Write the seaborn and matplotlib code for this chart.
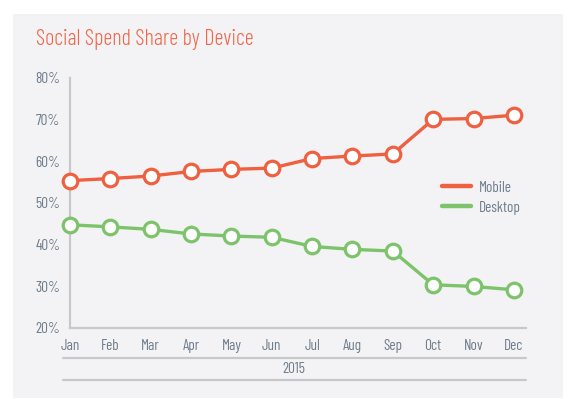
import numpy as np
import pandas as pd
import matplotlib
matplotlib.use('Agg')
import matplotlib.pyplot as plt
import seaborn as sns
from matplotlib.lines import Line2D
from matplotlib.patches import Rectangle

# ---------------- datos ----------------
meses = ['Jan', 'Feb', 'Mar', 'Apr', 'May', 'Jun', 'Jul', 'Aug', 'Sep', 'Oct', 'Nov', 'Dec']
mobile = [55.3, 55.8, 56.4, 57.5, 58.0, 58.3, 60.6, 61.2, 61.7, 70.0, 70.2, 71.0]
desktop = [44.7, 44.2, 43.6, 42.5, 42.0, 41.7, 39.5, 38.8, 38.4, 30.3, 29.9, 29.1]
y_ticks = [20, 30, 40, 50, 60, 70, 80]
anio = '2015'

df = pd.DataFrame({
    'idx': list(range(len(meses))) * 2,
    'share': mobile + desktop,
    'device': ['Mobile'] * len(meses) + ['Desktop'] * len(meses),
})

colores = {'Mobile': '#ee6040', 'Desktop': '#7dc36b'}
gris_txt = '#6f7d8c'
gris_eje = '#c8c8c8'

sns.set_style('white')
plt.rcParams['font.family'] = ['Barlow Condensed', 'DejaVu Sans']

fig = plt.figure(figsize=(5.76, 3.99), dpi=100)
fig.patch.set_facecolor('white')
fig.add_artist(Rectangle((13 / 576, 1 - 398 / 399), 550 / 576, 384 / 399,
                         transform=fig.transFigure, facecolor='#f3f3f5',
                         edgecolor='none', zorder=0))

ax = fig.add_axes([70 / 576, 1 - 327.7 / 399, 456 / 576, 250 / 399])
ax.set_facecolor('none')

for dev in ['Mobile', 'Desktop']:
    sub = df[df['device'] == dev]
    sns.lineplot(data=sub, x='idx', y='share', color=colores[dev], ax=ax,
                 linewidth=2.4, marker='o', markersize=10.5,
                 markerfacecolor='white', markeredgecolor=colores[dev],
                 markeredgewidth=2.3, clip_on=False, zorder=3)

ax.set_xlim(0, 11.3)
ax.set_ylim(20, 80)
ax.set_xticks(range(len(meses)))
ax.set_xticklabels(meses)
ax.set_yticks(y_ticks)
ax.set_yticklabels([f'{t}%' for t in y_ticks])
ax.set_xlabel('')
ax.set_ylabel('')

for s in ['top', 'right']:
    ax.spines[s].set_visible(False)
for s in ['left', 'bottom']:
    ax.spines[s].set_color(gris_eje)
    ax.spines[s].set_linewidth(1.6)
ax.tick_params(axis='both', colors=gris_eje, labelcolor=gris_txt, labelsize=11,
               length=4, width=1.6, direction='out')
ax.tick_params(axis='x', pad=4)
ax.tick_params(axis='y', pad=3)

# titulo
fig.text(36 / 576, 1 - 40 / 399, 'Social Spend Share by Device', color='#f0674a',
         fontsize=16, fontweight=300, va='center', ha='left')

# leyenda
handles = [Line2D([0], [0], color=colores[d], linewidth=3.2, solid_capstyle='round')
           for d in ['Mobile', 'Desktop']]
leg = ax.legend(handles, ['Mobile', 'Desktop'], loc='center left',
                bbox_to_anchor=(0.816, 0.52), frameon=False, fontsize=11,
                handlelength=1.9, handletextpad=0.5, labelspacing=0.4,
                borderpad=0, borderaxespad=0)
for t in leg.get_texts():
    t.set_color(gris_txt)

# lineas de agrupacion del anio
for yy in [-0.12, -0.209]:
    ax.plot([-0.015, 1.0], [yy, yy], transform=ax.transAxes, color=gris_eje,
            linewidth=1.6, clip_on=False)
ax.text(0.49, -0.165, anio, transform=ax.transAxes, ha='center', va='center',
        color=gris_txt, fontsize=11)

plt.savefig('out.png', dpi=100)
